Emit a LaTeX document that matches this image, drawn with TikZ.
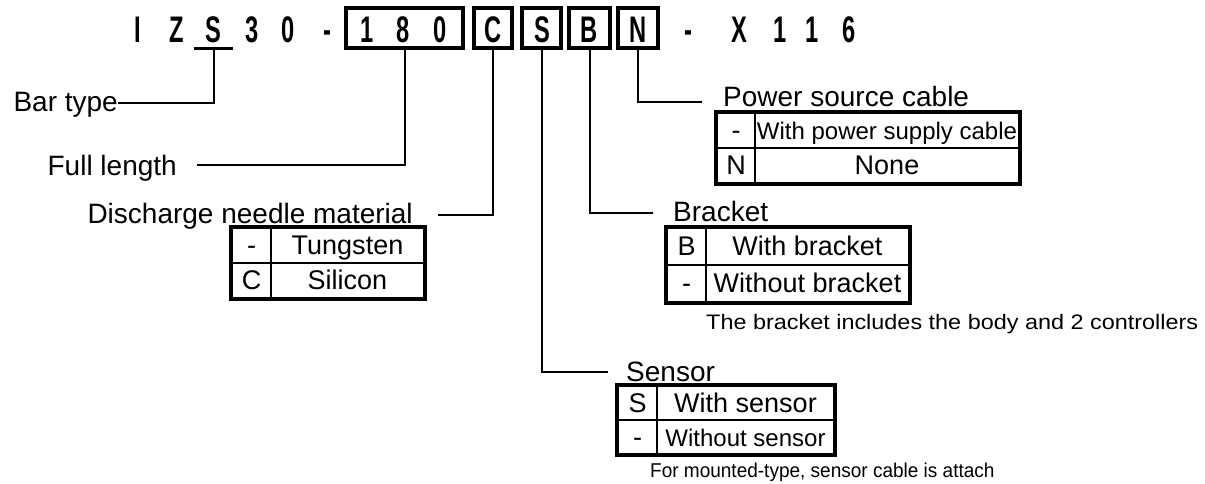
\documentclass[tikz,border=0pt]{standalone}
\usepackage{fontspec}
\usepackage{graphicx}
\setmainfont{Liberation Sans}
\usetikzlibrary{fit}
\newcommand\myfs[1]{\fontsize{#1bp}{#1bp}\selectfont}
\newcommand\hc[1]{\scalebox{0.64}[1]{#1}}
\begin{document}
\begin{tikzpicture}[x=1bp,y=-1bp,
  hdr/.style={font=\myfs{37}\bfseries, inner sep=0, anchor=base},
  hbox/.style={draw, line width=3.5bp, minimum height=40bp, inner sep=0},
  lbl/.style={font=\myfs{28}, inner sep=0},
  conn/.style={line width=2bp},
  cellbox/.style={draw, line width=2.5bp, inner sep=0, text height=19bp, text depth=0bp, font=\myfs{27}},
  frame/.style={draw, line width=4bp, inner sep=0},
  note/.style={inner sep=0, anchor=base west}]
\useasboundingbox (0,0) rectangle (1205,484);
% header
\node[hdr] (h1) at (138,43) {\hc{I}};
\node[hdr] (h2) at (177,43) {\hc{Z}};
\node[hdr] (h3) at (213,43) {\hc{S}};
\node[hdr] (h4) at (252,43) {\hc{3}};
\node[hdr] (h5) at (288,43) {\hc{0}};
\node[hdr] (h6) at (327,43) {\hc{-}};
\node[hdr] (h7) at (367,43) {\hc{1}};
\node[hdr] (h8) at (403,43) {\hc{8}};
\node[hdr] (h9) at (440,43) {\hc{0}};
\node[hdr] (h10) at (493,43) {\hc{C}};
\node[hdr] (h11) at (542,43) {\hc{S}};
\node[hdr] (h12) at (589,43) {\hc{B}};
\node[hdr] (h13) at (638,43) {\hc{N}};
\node[hdr] (h14) at (688,43) {\hc{-}};
\node[hdr] (h15) at (739,43) {\hc{X}};
\node[hdr] (h16) at (780,43) {\hc{1}};
\node[hdr] (h17) at (812,43) {\hc{1}};
\node[hdr] (h18) at (849,43) {\hc{6}};
\node[hbox, minimum width=117bp] (b180) at (404.5,28) {};
\node[hbox, minimum width=38bp] (bC) at (493,28) {};
\node[hbox, minimum width=39bp] (bS) at (541.5,28) {};
\node[hbox, minimum width=41bp] (bB) at (589.5,28) {};
\node[hbox, minimum width=40bp] (bN) at (638,28) {};
\node[inner sep=0, minimum width=39bp, minimum height=0bp] (uS) at (213.5,49) {};
\draw[line width=3bp] (uS.west) -- (uS.east);
% labels
\node[lbl, anchor=base east] (bar) at (118,112) {Bar type};
\node[lbl, anchor=base east] (full) at (177,176) {Full length};
\node[lbl, anchor=base east] (dis) at (413,224) {Discharge needle material};
\node[lbl, anchor=base west] (pow) at (723,107) {Power source cable};
\node[lbl, anchor=base west] (brk) at (673,222) {Bracket};
\node[lbl, anchor=base west] (sen) at (626,382) {Sensor};
% connector ends
\coordinate (eBar) at (118,103);
\coordinate (eFull) at (197,165);
\coordinate (eDis) at (438,215);
\coordinate (ePow) at (702,102);
\coordinate (eBrk) at (653,213);
\coordinate (eSen) at (608,372);
\draw[conn] (uS.center) |- (eBar);
\draw[conn] (b180.south) |- (eFull);
\draw[conn] (bC.south) |- (eDis);
\draw[conn] (bN.south) |- (ePow);
\draw[conn] (bB.south) |- (eBrk);
\draw[conn] (bS.south) |- (eSen);
% discharge table
\node[cellbox, minimum width=39bp, minimum height=35bp] (d11) at (251.5,245.5) {-};
\node[cellbox, minimum width=153bp, minimum height=35bp] (d12) at (347.5,245.5) {Tungsten};
\node[cellbox, minimum width=39bp, minimum height=35bp] (d21) at (251.5,280.5) {C};
\node[cellbox, minimum width=153bp, minimum height=35bp] (d22) at (347.5,280.5) {Silicon};
\node[frame, fit=(d11)(d22)] (dT) {};
% power table
\node[cellbox, minimum width=38bp, minimum height=35bp] (p11) at (736,130.5) {-};
\node[cellbox, minimum width=264bp, minimum height=35bp, font=\myfs{24}] (p12) at (887,130.5) {With power supply cable};
\node[cellbox, minimum width=38bp, minimum height=35bp] (p21) at (736,165.5) {N};
\node[cellbox, minimum width=264bp, minimum height=35bp] (p22) at (887,165.5) {None};
\node[frame, fit=(p11)(p22)] (pT) {};
% bracket table
\node[cellbox, minimum width=39bp, minimum height=37bp] (k11) at (686.5,246.5) {B};
\node[cellbox, minimum width=203bp, minimum height=37bp] (k12) at (807.5,246.5) {With bracket};
\node[cellbox, minimum width=39bp, minimum height=37bp] (k21) at (686.5,283.5) {-};
\node[cellbox, minimum width=203bp, minimum height=37bp] (k22) at (807.5,283.5) {Without bracket};
\node[frame, fit=(k11)(k22)] (kT) {};
\node[note, font=\myfs{21}] (kN) at (706,330) {\scalebox{1.115}[1]{The bracket includes the body and 2 controllers}};
% sensor table
\node[cellbox, minimum width=39bp, minimum height=34bp] (s11) at (637.5,403) {S};
\node[cellbox, minimum width=177bp, minimum height=34bp] (s12) at (745.5,403) {With sensor};
\node[cellbox, minimum width=39bp, minimum height=34bp] (s21) at (637.5,437) {-};
\node[cellbox, minimum width=177bp, minimum height=34bp, font=\myfs{24}] (s22) at (745.5,437) {Without sensor};
\node[frame, fit=(s11)(s22)] (sT) {};
\node[note, font=\myfs{20}] (sN) at (650,477) {\scalebox{0.95}[1]{For mounted-type, sensor cable is attach}};
\end{tikzpicture}
\end{document}
